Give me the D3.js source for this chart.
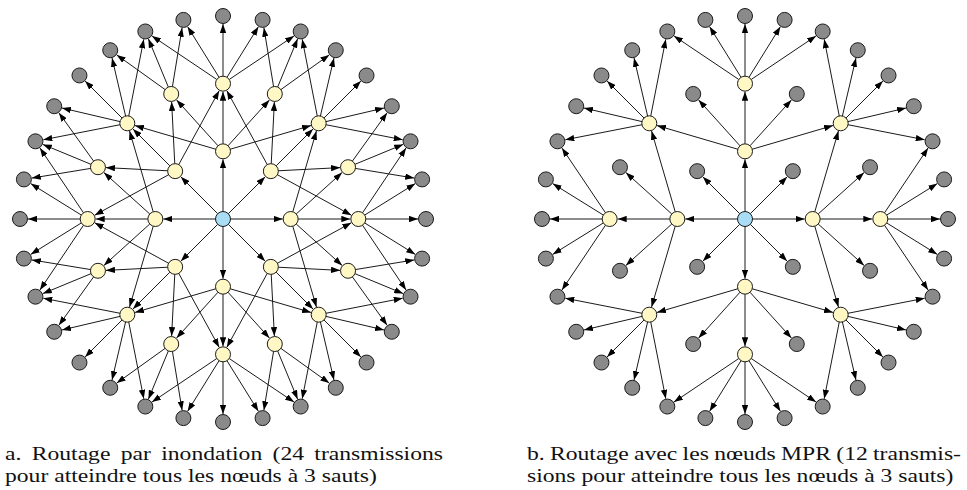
<!DOCTYPE html>
<html>
<head>
<meta charset="utf-8">
<script src="https://cdn.jsdelivr.net/npm/d3@7"></script>
<style>
  html, body { margin: 0; padding: 0; background: #fff; }
  svg { display: block; }
</style>
</head>
<body>
<svg id="chart" width="967" height="490"></svg>
<script>
// ---------- data ----------
const panels = ["a", "b"];
const hops = [0, 1, 2, 3];                 // ring index (number of hops)
const nodesPerHop = [1, 8, 16, 32];        // nodes on each ring
// transmitting (forwarding) nodes per panel, as indices in each ring
const forwardersA = { 0: [0], 1: [0,1,2,3,4,5,6,7], 2: [0,1,2,3,4,5,6,7,8,9,10,11,12,13,14,15] };
const forwardersB = { 0: [0], 1: [0,2,4,6], 2: [0,2,4,6,8,10,12,14] };
// neighbour offsets on the next ring (in next-ring index steps, around 2*i)
const fanOutCenter = [0,1,2,3,4,5,6,7];
const fanOutRing1 = [-2,-1,0,1,2];
const fanOutRing2Even = [-2,-1,0,1,2];
const fanOutRing2Odd = [-1,0,1];
const captionA = ["a. Routage par inondation (24 transmissions", "pour atteindre tous les nœuds à 3 sauts)"];
const captionB = ["b. Routage avec les nœuds MPR (12 transmis-", "sions pour atteindre tous les nœuds à 3 sauts)"];

// ---------- layout ----------
const svg = d3.select("#chart");
const centers = { a: [223, 219], b: [745, 219] };
const rScale = d3.scaleLinear().domain([0, 3]).range([0, 203]);
const nodeR = 7.5;
const colors = { center: "#a9dcf5", fwd: "#fff8c4", other: "#8a8a8a" };

svg.append("defs").append("marker")
  .attr("id", "arr")
  .attr("viewBox", "0 -3.2 9 6.4")
  .attr("refX", 9).attr("refY", 0)
  .attr("markerUnits", "userSpaceOnUse")
  .attr("markerWidth", 9).attr("markerHeight", 6.4)
  .attr("orient", "auto")
  .append("path").attr("d", "M0,-3.2L9,0L0,3.2Z").attr("fill", "#000");

function pos(panel, hop, i) {
  const n = nodesPerHop[hop];
  const a = d3.scaleLinear().domain([0, n]).range([0, 2 * Math.PI])(i);
  const r = rScale(hop);
  const [cx, cy] = centers[panel];
  return [cx + r * Math.cos(a), cy - r * Math.sin(a)];
}

panels.forEach(p => {
  const fw = p === "a" ? forwardersA : forwardersB;
  const edges = [];
  fw[0].forEach(i => fanOutCenter.forEach(k => edges.push([0, i, 1, k])));
  fw[1].forEach(i => fanOutRing1.forEach(k => edges.push([1, i, 2, (2 * i + k + 16) % 16])));
  fw[2].forEach(i => (i % 2 === 0 ? fanOutRing2Even : fanOutRing2Odd)
      .forEach(k => edges.push([2, i, 3, (2 * i + k + 32) % 32])));

  const g = svg.append("g");
  g.selectAll("line").data(edges).join("line")
    .each(function(e) {
      const [x1, y1] = pos(p, e[0], e[1]);
      const [x2, y2] = pos(p, e[2], e[3]);
      const d = Math.hypot(x2 - x1, y2 - y1);
      const ux = (x2 - x1) / d, uy = (y2 - y1) / d;
      d3.select(this)
        .attr("x1", x1 + ux * nodeR).attr("y1", y1 + uy * nodeR)
        .attr("x2", x2 - ux * (nodeR + 0.5)).attr("y2", y2 - uy * (nodeR + 0.5));
    })
    .attr("stroke", "#1a1a1a").attr("stroke-width", 1)
    .attr("marker-end", "url(#arr)");

  const nodes = [];
  hops.forEach(h => d3.range(nodesPerHop[h]).forEach(i => nodes.push([h, i])));
  g.selectAll("circle").data(nodes).join("circle")
    .attr("cx", d => pos(p, d[0], d[1])[0])
    .attr("cy", d => pos(p, d[0], d[1])[1])
    .attr("r", nodeR)
    .attr("fill", d => d[0] === 0 ? colors.center : (fw[d[0]] && fw[d[0]].includes(d[1]) ? colors.fwd : colors.other))
    .attr("stroke", "#1a1a1a").attr("stroke-width", 1);
});

// ---------- captions ----------
const font = "Liberation Serif";
const fs = 19.2;
const lineGap = 21.4;

function measure(str) {
  const m = svg.append("text").attr("font-family", font).attr("font-size", fs).text(str);
  const w = m.node().getComputedTextLength();
  m.remove();
  return w;
}
// horizontal stretch so the last line of caption a spans its reference width (372px)
const sx = 372 / measure(captionA[1]);

function caption(lines, x0, x1, y0) {
  const words = lines[0].split(" ");
  const widths = words.map(measure);
  const avail = (x1 - x0) / sx;
  const gap = (avail - d3.sum(widths)) / (words.length - 1);
  const xs = [];
  let x = 0;
  widths.forEach(w => { xs.push(x); x += w + gap; });
  const g = svg.append("g")
    .attr("transform", `translate(${x0},0) scale(${sx},1)`)
    .attr("font-family", font).attr("font-size", fs).attr("fill", "#111");
  const t = g.append("text").attr("y", y0);
  words.forEach((w, i) => t.append("tspan").attr("x", xs[i]).attr("y", y0).text(w));
  g.append("text").attr("x", 0).attr("y", y0 + lineGap).text(lines[1]);
}
caption(captionA, 5, 443, 460.5);
caption(captionB, 527, 961, 460.5);
</script>
</body>
</html>
